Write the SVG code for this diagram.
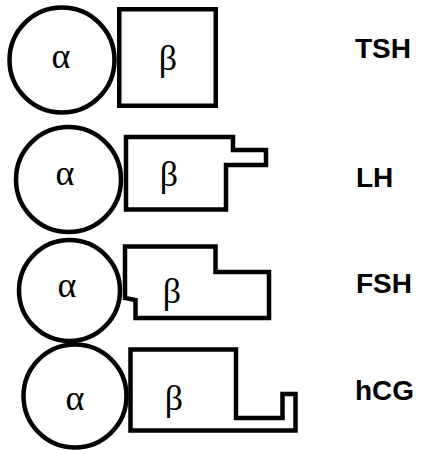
<svg xmlns="http://www.w3.org/2000/svg" width="423" height="450" viewBox="0 0 423 450">
<style>
.s{fill:none;stroke:#000;stroke-width:4.5;stroke-linejoin:miter}
.g{font-family:"Liberation Serif","Times New Roman",serif;font-size:36px;text-anchor:middle;fill:#000}
.l{font-family:"Liberation Sans",Arial,sans-serif;font-size:28px;font-weight:bold;fill:#000}
</style>
<rect width="423" height="450" fill="#fff"/>
<g id="TSH">
<circle class="s" cx="62" cy="60" r="52.5"/>
<rect class="s" x="119.25" y="9.25" width="96.5" height="96.5"/>
<text class="g" x="61" y="68">α</text>
<text class="g" x="168" y="70">β</text>
<text class="l" x="355" y="58">TSH</text>
</g>
<g id="LH">
<circle class="s" cx="68.5" cy="179.5" r="52.5"/>
<path class="s" d="M126,137 H233 V150 H266 V165 H226 V209.5 H126 Z"/>
<text class="g" x="65" y="185">α</text>
<text class="g" x="169" y="186">β</text>
<text class="l" x="356" y="187">LH</text>
</g>
<g id="FSH">
<circle class="s" cx="69.5" cy="290.5" r="50.5"/>
<path class="s" d="M125,246.5 H215.5 V272 H269 V318 H135.5 V300 L125,298 Z"/>
<text class="g" x="67" y="297">α</text>
<text class="g" x="172" y="303">β</text>
<text class="l" x="356" y="293">FSH</text>
</g>
<g id="hCG">
<circle class="s" cx="75" cy="396" r="51.5"/>
<path class="s" d="M130.5,349.5 H236 V418 H282.5 V394 H295.5 V430.5 H130.5 Z"/>
<text class="g" x="75" y="410">α</text>
<text class="g" x="174" y="410">β</text>
<text class="l" x="355" y="400">hCG</text>
</g>
<g id="connectors"/>
</svg>
